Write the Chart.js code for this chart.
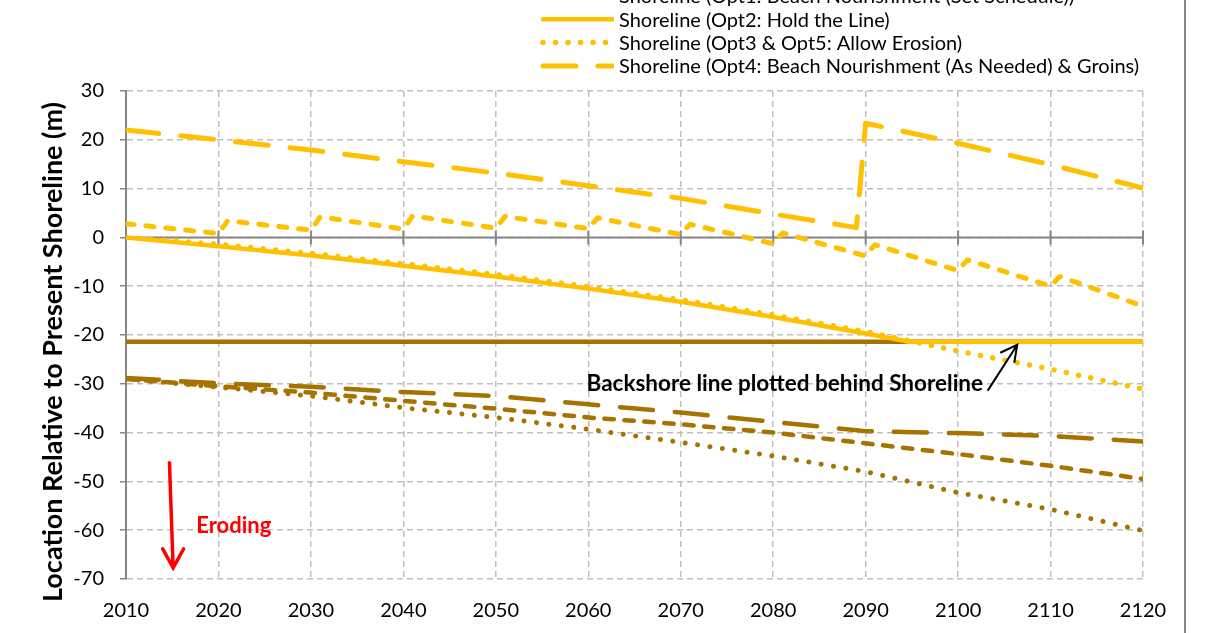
<!DOCTYPE html>
<html>
<head>
<meta charset="utf-8">
<script src="https://cdn.jsdelivr.net/npm/chart.js@4.4.1/dist/chart.umd.min.js"></script>
<style>
    html, body { margin: 0; padding: 0; background: #fff; }
    #wrap { width: 1212px; height: 633px; }
</style>
</head>
<body>
<div id="wrap"><canvas id="chart" width="1212" height="633"></canvas></div>
<script>
// Years shared by most series
const decades = [2010, 2020, 2030, 2040, 2050, 2060, 2070, 2080, 2090, 2100, 2110, 2120];

// Shoreline, Opt1 (set schedule nourishment) - sawtooth
const shoreOpt1Years = [2010, 2020, 2021, 2030, 2031, 2040, 2041, 2050, 2051, 2060, 2061, 2070, 2071, 2080, 2081, 2090, 2091, 2100, 2101, 2110, 2111, 2120];
const shoreOpt1 = [2.8, 0.8, 3.4, 1.5, 4.2, 1.7, 4.4, 1.9, 4.3, 1.8, 4.0, 0.6, 2.7, -1.3, 0.9, -3.8, -1.5, -6.8, -4.6, -10.0, -8.0, -14.1];

// Shoreline, Opt2 (hold the line)
const shoreOpt2Years = [2010, 2020, 2030, 2040, 2050, 2060, 2070, 2080, 2090, 2094.7, 2100, 2110, 2120];
const shoreOpt2 = [0, -1.8, -3.7, -5.8, -8.0, -10.5, -13.2, -16.3, -19.7, -21.4, -21.4, -21.4, -21.4];

// Shoreline, Opt3 & Opt5 (allow erosion)
const shoreOpt3 = [0, -1.4, -3.3, -5.4, -7.6, -10.1, -12.8, -15.9, -19.3, -23.3, -27.0, -31.1];

// Shoreline, Opt4 (as-needed nourishment & groins)
const shoreOpt4Years = [2010, 2020, 2030, 2040, 2050, 2060, 2070, 2080, 2089, 2090, 2100, 2110, 2120];
const shoreOpt4 = [22.0, 20.0, 17.9, 15.5, 13.2, 10.6, 8.0, 4.8, 2.0, 23.4, 19.3, 14.9, 10.1];

// Backshore lines
const backOpt1 = [-29.0, -30.5, -31.8, -33.5, -35.1, -36.9, -38.3, -40.0, -42.2, -44.4, -46.8, -49.5];
const backOpt2 = [-21.4, -21.4, -21.4, -21.4, -21.4, -21.4, -21.4, -21.4, -21.4, -21.4, -21.4, -21.4];
const backOpt3 = [-29.0, -30.7, -32.5, -34.9, -36.9, -39.3, -42.0, -44.8, -48.0, -52.3, -55.7, -60.1];
const backOpt4 = [-28.8, -29.9, -30.6, -31.7, -32.5, -34.2, -35.9, -37.8, -39.7, -40.1, -40.7, -41.8];

const xMin = 2010, xMax = 2120, xStep = 10;
const yMin = -70, yMax = 30, yStep = 10;

const YELLOW = '#FFC000';
const BROWN = '#A67200';
const AXIS = '#868686';
const GRID = '#BFBFBF';

const pts = (xs, ys) => xs.map((x, i) => ({ x: x, y: ys[i] }));

const DOT = [0.01, 12.5];
const SHORT = [8, 12];
const LONG = [33, 22];

// first in list is drawn on top
const datasets = [
    { label: 'Shoreline (Opt3 & Opt5: Allow Erosion)', data: pts(decades, shoreOpt3), borderColor: YELLOW, borderWidth: 5.5, borderDash: DOT },
    { label: 'Shoreline (Opt2: Hold the Line)', data: pts(shoreOpt2Years, shoreOpt2), borderColor: YELLOW, borderWidth: 4.5, borderDash: [] },
    { label: 'Shoreline (Opt1: Beach Nourishment (Set Schedule))', data: pts(shoreOpt1Years, shoreOpt1), borderColor: YELLOW, borderWidth: 5, borderDash: SHORT },
    { label: 'Shoreline (Opt4: Beach Nourishment (As Needed) & Groins)', data: pts(shoreOpt4Years, shoreOpt4), borderColor: YELLOW, borderWidth: 5, borderDash: LONG },
    { label: 'Backshore (Opt2: Hold the Line)', data: pts(decades, backOpt2), borderColor: BROWN, borderWidth: 4.5, borderDash: [] },
    { label: 'Backshore (Opt1: Beach Nourishment (Set Schedule))', data: pts(decades, backOpt1), borderColor: BROWN, borderWidth: 4.5, borderDash: [9.5, 10.5] },
    { label: 'Backshore (Opt3 & Opt5: Allow Erosion)', data: pts(decades, backOpt3), borderColor: BROWN, borderWidth: 5, borderDash: DOT },
    { label: 'Backshore (Opt4: Beach Nourishment (As Needed) & Groins)', data: pts(decades, backOpt4), borderColor: BROWN, borderWidth: 4.5, borderDash: LONG }
];
datasets.forEach(d => {
    d.borderCapStyle = 'round';
    d.borderJoinStyle = 'round';
    d.pointRadius = 0;
    d.tension = 0;
    d.fill = false;
});

// legend rows (dataset index), top row is cut off by the frame
const legendRows = [2, 1, 0, 3];

const decorations = {
    id: 'decorations',
    beforeDatasetsDraw(chart) {
        const { ctx, chartArea: a, scales: { x, y } } = chart;
        const y0 = y.getPixelForValue(0);
        ctx.save();
        ctx.strokeStyle = AXIS;
        ctx.lineWidth = 2;
        ctx.beginPath();
        ctx.moveTo(a.left, y0);
        ctx.lineTo(a.right, y0);
        x.ticks.forEach(t => {
            const px = x.getPixelForValue(t.value);
            ctx.moveTo(px, y0 - 7);
            ctx.lineTo(px, y0 + 7);
        });
        ctx.stroke();
        ctx.restore();
    },
    afterDraw(chart) {
        const { ctx, scales: { x, y } } = chart;
        ctx.save();

        // Legend
        ctx.font = '20px Lato';
        ctx.textBaseline = 'middle';
        ctx.textAlign = 'left';
        legendRows.forEach((di, i) => {
            const ds = chart.data.datasets[di];
            const ry = -4 + i * 23.3;
            ctx.save();
            ctx.beginPath();
            ctx.rect(538, ry - 10, 76, 20);
            ctx.clip();
            ctx.strokeStyle = ds.borderColor;
            ctx.lineWidth = ds.borderWidth;
            ctx.lineCap = 'round';
            ctx.setLineDash(ds.borderDash);
            ctx.beginPath();
            ctx.moveTo(543, ry);
            ctx.lineTo(613, ry);
            ctx.stroke();
            ctx.restore();
            ctx.fillStyle = '#000';
            ctx.fillText(ds.label, 619, ry + 1);
        });

        // Y axis title
        ctx.save();
        ctx.translate(53, 352);
        ctx.rotate(-Math.PI / 2);
        ctx.font = 'bold 27px Lato';
        ctx.textAlign = 'center';
        ctx.textBaseline = 'middle';
        ctx.fillStyle = '#000';
        ctx.fillText('Location Relative to Present Shoreline (m)', 0, 0, 513);
        ctx.restore();

        // Backshore note + arrow
        ctx.font = 'bold 22.5px Lato';
        ctx.textAlign = 'right';
        ctx.fillStyle = '#000';
        ctx.fillText('Backshore line plotted behind Shoreline', x.getPixelForValue(2102.7), y.getPixelForValue(-30.0), 398);
        const ax1 = x.getPixelForValue(2103.2), ay1 = y.getPixelForValue(-31.4);
        const ax2 = x.getPixelForValue(2106.4), ay2 = y.getPixelForValue(-22.0);
        ctx.strokeStyle = '#000';
        ctx.lineWidth = 2;
        ctx.beginPath();
        ctx.moveTo(ax1, ay1);
        ctx.lineTo(ax2, ay2);
        ctx.moveTo(ax2 - 17, ay2 + 8);
        ctx.lineTo(ax2, ay2);
        ctx.lineTo(ax2 - 3, ay2 + 18);
        ctx.stroke();

        // Eroding arrow
        const ex1 = x.getPixelForValue(2014.7), ey1 = y.getPixelForValue(-46.2);
        const ex2 = x.getPixelForValue(2015.1), ey2 = y.getPixelForValue(-67.7);
        ctx.strokeStyle = '#FF0000';
        ctx.lineWidth = 3.5;
        ctx.lineCap = 'round';
        ctx.beginPath();
        ctx.moveTo(ex1, ey1);
        ctx.lineTo(ex2, ey2);
        ctx.moveTo(ex2 - 10.5, ey2 - 19);
        ctx.lineTo(ex2, ey2);
        ctx.lineTo(ex2 + 10.5, ey2 - 19);
        ctx.stroke();
        ctx.fillStyle = '#FF0000';
        ctx.font = 'bold 22px Lato';
        ctx.textAlign = 'left';
        ctx.fillText('Eroding', x.getPixelForValue(2017.6), y.getPixelForValue(-59.2));

        // chart frame (right edge)
        ctx.strokeStyle = AXIS;
        ctx.lineWidth = 2;
        ctx.beginPath();
        ctx.moveTo(1185, 0);
        ctx.lineTo(1185, 633);
        ctx.stroke();

        ctx.restore();
    }
};

new Chart(document.getElementById('chart'), {
    type: 'line',
    data: { datasets: datasets },
    options: {
        responsive: false,
        animation: false,
        devicePixelRatio: 1,
        layout: { padding: { top: 91, right: 69, left: 0, bottom: 0 } },
        plugins: { legend: { display: false }, tooltip: { enabled: false } },
        scales: {
            x: {
                type: 'linear',
                min: xMin,
                max: xMax,
                ticks: {
                    stepSize: xStep,
                    padding: 20,
                    color: '#000',
                    font: { family: 'Lato', size: 20 },
                    callback: v => String(v)
                },
                grid: { color: GRID, lineWidth: 1.5, drawTicks: false },
                border: { display: false, dash: [6, 4] },
                afterFit: s => { s.height = 54; }
            },
            y: {
                min: yMin,
                max: yMax,
                ticks: {
                    stepSize: yStep,
                    padding: 16,
                    color: '#000',
                    font: { family: 'Lato', size: 20 }
                },
                grid: { color: GRID, lineWidth: 1.5, tickLength: 6, tickColor: AXIS, tickWidth: 1.5 },
                border: { display: true, color: AXIS, width: 2, dash: [6, 4] },
                afterFit: s => { s.width = 126; }
            }
        }
    },
    plugins: [decorations]
});
</script>
</body>
</html>
